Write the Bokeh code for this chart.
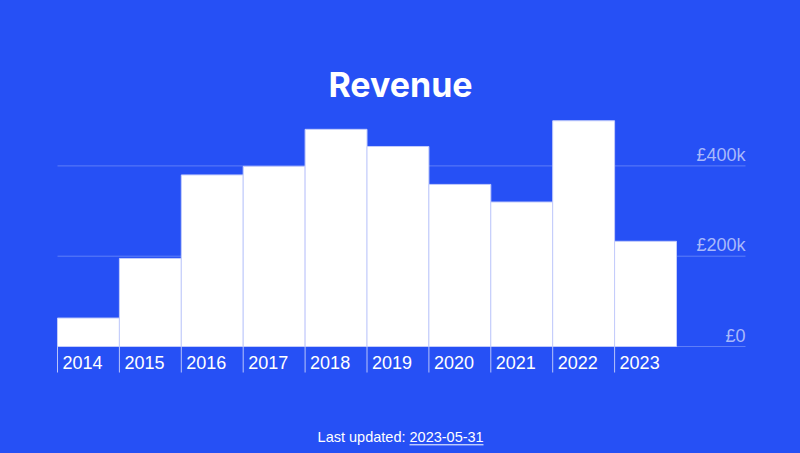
from bokeh.plotting import figure
from bokeh.models import Range1d, Label
from bokeh.embed import file_html
from bokeh.resources import INLINE
from bokeh.core.properties import value

# ---- data ----
years = ["2014", "2015", "2016", "2017", "2018", "2019", "2020", "2021", "2022", "2023"]
revenue = [63000, 195000, 380000, 399000, 481000, 443000, 359000, 320000, 500000, 233000]
y_ticks = [0, 200000, 400000]
y_tick_labels = ["£0", "£200k", "£400k"]
title_text = "Revenue"
footer_label = "Last updated:"
footer_date = "2023-05-31"

# ---- layout (canvas pixels, from top-left) ----
W, H = 800, 453
BG = "#2650F5"
plot_left = 57.0          # left edge of first bar
slot = 61.9               # bar slot width in px
zero_px = 346.0           # px from top for value 0
px_per_unit = 90.3 / 200000.0
grid_right_px = 745.0
sep_below_px = 26.0

x_start = -plot_left / slot
x_end = (W - plot_left) / slot
y_start = -(H - zero_px) / px_per_unit
y_end = zero_px / px_per_unit


def dx(cx):
    return (cx - plot_left) / slot


def dy(cy_top):
    return (zero_px - cy_top) / px_per_unit


p = figure(width=W, height=H, x_range=Range1d(x_start, x_end), y_range=Range1d(y_start, y_end),
           output_backend="svg", toolbar_location=None, min_border=0,
           background_fill_color=BG, border_fill_color=BG, outline_line_color=None)
p.axis.visible = False
p.grid.visible = False

idx = list(range(len(years)))
centers = [i + 0.5 for i in idx]
grid_end = dx(grid_right_px)

# gridlines
p.segment(x0=[0] * len(y_ticks), x1=[grid_end] * len(y_ticks), y0=y_ticks, y1=y_ticks,
          line_color="#5f7ef8", line_width=1)

# bars
p.vbar(x=centers, width=1, top=revenue, bottom=0, fill_color="white",
       line_color="#c3ccfb", line_width=1)

# separators below baseline
sep_y = -sep_below_px / px_per_unit
p.segment(x0=idx, x1=idx, y0=[0] * len(idx), y1=[sep_y] * len(idx),
          line_color="#b8c4fb", line_width=1)

# category labels
p.text(x=idx, y=[0] * len(idx), text=years, x_offset=5, y_offset=16,
       text_align="left", text_baseline="middle", text_color="white",
       text_font=value("Liberation Sans"), text_font_size="18px")

# y tick labels
p.text(x=[grid_end] * len(y_ticks), y=y_ticks, text=y_tick_labels, y_offset=-11,
       text_align="right", text_baseline="middle", text_color="#a9b9fb",
       text_font=value("Liberation Sans"), text_font_size="18px")

# title
p.add_layout(Label(x=400, y=H - 84.2, x_units="screen", y_units="screen", text=title_text,
                   text_align="center", text_baseline="middle", text_color="white",
                   text_font="Inter", text_font_style="bold", text_font_size="34px"))

# footer
p.add_layout(Label(x=405, y=H - 436.5, x_units="screen", y_units="screen", text=footer_label,
                   text_align="right", text_baseline="middle", text_color="white",
                   text_font="Liberation Sans", text_font_size="14.5px"))
p.add_layout(Label(x=409, y=H - 436.5, x_units="screen", y_units="screen", text=footer_date,
                   text_align="left", text_baseline="middle", text_color="white",
                   text_font="Liberation Sans", text_font_size="14.5px"))
p.segment(x0=[dx(409)], x1=[dx(483)], y0=[dy(444.3)], y1=[dy(444.3)],
          line_color="white", line_width=1)

html = file_html(p, INLINE, title="Revenue")
html = html.replace("</head>", "<style>html,body{background:#2650F5;}</style></head>", 1)
open("out.html", "w").write(html)
